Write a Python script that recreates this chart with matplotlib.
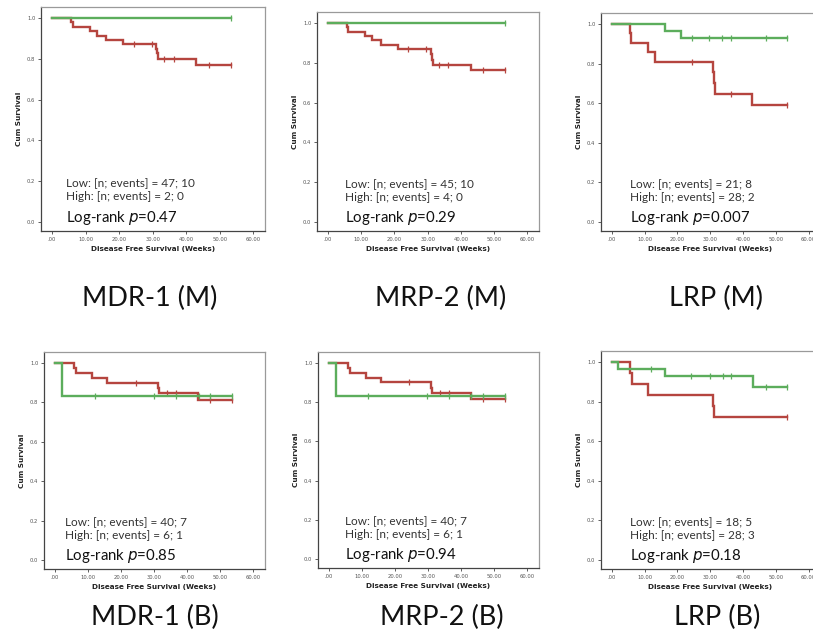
import matplotlib
matplotlib.use("Agg")
import matplotlib.pyplot as plt
import numpy as np

W, H = 813, 633
DPI = 100

# ---------------- data ----------------
# MDR-1 (M)
mdr_m_low_t = [0, 5.7, 6.2, 11.3, 13.5, 16.2, 21.2, 31.0, 31.3, 31.6, 43.0, 53.3]
mdr_m_low_s = [1.0, 0.979, 0.957, 0.936, 0.915, 0.894, 0.872, 0.850, 0.828, 0.800, 0.770, 0.770]
mdr_m_low_c = [24.4, 29.8, 33.5, 36.4, 46.8, 53.3]
mdr_m_high_t = [0, 53.3]
mdr_m_high_s = [1.0, 1.0]
mdr_m_high_c = [53.3]

# MRP-2 (M)
mrp_m_low_t = [0, 5.7, 6.0, 11.2, 13.2, 16.0, 21.2, 31.0, 31.3, 31.6, 42.9, 53.2]
mrp_m_low_s = [1.0, 0.978, 0.957, 0.936, 0.914, 0.891, 0.867, 0.842, 0.815, 0.790, 0.762, 0.762]
mrp_m_low_c = [24.1, 29.6, 33.3, 36.2, 46.5, 53.2]
mrp_m_high_t = [0, 53.2]
mrp_m_high_s = [1.0, 1.0]
mrp_m_high_c = [53.2]

# LRP (M)
lrp_m_low_t = [0, 5.6, 5.9, 11.0, 13.3, 31.0, 31.2, 31.5, 42.8, 53.3]
lrp_m_low_s = [1.0, 0.952, 0.905, 0.857, 0.810, 0.756, 0.702, 0.648, 0.589, 0.589]
lrp_m_low_c = [24.4, 36.3, 53.3]
lrp_m_high_t = [0, 16.3, 21.0, 53.3]
lrp_m_high_s = [1.0, 0.964, 0.929, 0.929]
lrp_m_high_c = [24.4, 29.6, 33.7, 36.3, 46.9, 53.3]

# MDR-1 (B)
mdr_b_low_t = [0, 5.9, 6.4, 11.2, 15.8, 31.1, 31.4, 43.2, 53.4]
mdr_b_low_s = [1.0, 0.975, 0.950, 0.925, 0.900, 0.874, 0.848, 0.814, 0.814]
mdr_b_low_c = [24.5, 33.9, 36.7, 47.0, 53.4]
mdr_b_high_t = [0, 2.2, 53.4]
mdr_b_high_s = [1.0, 0.833, 0.833]
mdr_b_high_c = [12.0, 29.8, 36.7, 43.4, 47.0, 53.4]

# MRP-2 (B)
mrp_b_low_t = [0, 5.8, 6.3, 11.2, 15.8, 31.0, 31.3, 42.8, 53.2]
mrp_b_low_s = [1.0, 0.975, 0.950, 0.925, 0.900, 0.874, 0.848, 0.814, 0.814]
mrp_b_low_c = [24.3, 33.7, 36.4, 46.6, 53.2]
mrp_b_high_t = [0, 2.2, 53.2]
mrp_b_high_s = [1.0, 0.833, 0.833]
mrp_b_high_c = [11.9, 29.6, 36.4, 43.0, 46.6, 53.2]

# LRP (B)
lrp_b_low_t = [0, 5.6, 6.1, 10.9, 31.0, 31.3, 53.4]
lrp_b_low_s = [1.0, 0.944, 0.889, 0.833, 0.778, 0.722, 0.722]
lrp_b_low_c = [53.4]
lrp_b_high_t = [0, 2.0, 16.3, 43.1, 53.4]
lrp_b_high_s = [1.0, 0.964, 0.929, 0.871, 0.871]
lrp_b_high_c = [11.9, 24.3, 29.8, 33.9, 36.5, 46.9, 53.4]

titles = ["MDR-1 (M)", "MRP-2 (M)", "LRP (M)", "MDR-1 (B)", "MRP-2 (B)", "LRP (B)"]
low_n = [47, 45, 21, 40, 40, 18]
low_ev = [10, 10, 8, 7, 7, 5]
high_n = [2, 4, 28, 6, 6, 28]
high_ev = [0, 0, 2, 1, 1, 3]
pvals = ["0.47", "0.29", "0.007", "0.85", "0.94", "0.18"]

x_ticks = [0, 10, 20, 30, 40, 50, 60]
x_tick_labels = [".00", "10.00", "20.00", "30.00", "40.00", "50.00", "60.00"]
y_ticks = [0.0, 0.2, 0.4, 0.6, 0.8, 1.0]
y_tick_labels = ["0.0", "0.2", "0.4", "0.6", "0.8", "1.0"]

panels = [
    (mdr_m_low_t, mdr_m_low_s, mdr_m_low_c, mdr_m_high_t, mdr_m_high_s, mdr_m_high_c),
    (mrp_m_low_t, mrp_m_low_s, mrp_m_low_c, mrp_m_high_t, mrp_m_high_s, mrp_m_high_c),
    (lrp_m_low_t, lrp_m_low_s, lrp_m_low_c, lrp_m_high_t, lrp_m_high_s, lrp_m_high_c),
    (mdr_b_low_t, mdr_b_low_s, mdr_b_low_c, mdr_b_high_t, mdr_b_high_s, mdr_b_high_c),
    (mrp_b_low_t, mrp_b_low_s, mrp_b_low_c, mrp_b_high_t, mrp_b_high_s, mrp_b_high_c),
    (lrp_b_low_t, lrp_b_low_s, lrp_b_low_c, lrp_b_high_t, lrp_b_high_s, lrp_b_high_c),
]

# ---------------- layout (pixels: left, top, right, bottom) ----------------
boxes = [
    (41, 7, 265, 231),
    (317, 12, 539, 231),
    (601, 13, 820, 231),
    (44, 352, 265, 569),
    (318, 352, 539, 568),
    (601, 351, 820, 569),
]
text_x = [4.2, 5.1, 5.5, 3.1, 4.8, 5.5]
title_pos = [(150, 298), (441, 298), (716, 298), (155, 617), (442, 617), (717, 617)]

RED = "#b5453f"
GREEN = "#5cad5c"
FONT = "Lato"

fig = plt.figure(figsize=(W / DPI, H / DPI), dpi=DPI)
fig.patch.set_facecolor("white")


def step_curve(ax, t, s, c, color):
    ax.step(t, s, where="post", color=color, lw=1.7, solid_joinstyle="miter")
    cs = [s[np.searchsorted(t, ci, side="right") - 1] for ci in c]
    ax.plot(c, cs, ls="none", marker="|", ms=4, mew=0.9, color=color)


for i, (box, data) in enumerate(zip(boxes, panels)):
    l, t_, r, b = box
    ax = fig.add_axes([l / W, 1 - b / H, (r - l) / W, (b - t_) / H])
    lt, ls_, lc, ht, hs, hc = data
    step_curve(ax, lt, ls_, lc, RED)
    step_curve(ax, ht, hs, hc, GREEN)
    ax.set_xlim(-3.3, 63.5)
    ax.set_ylim(-0.045, 1.055)
    ax.set_xticks(x_ticks)
    ax.set_xticklabels(x_tick_labels)
    ax.set_yticks(y_ticks)
    ax.set_yticklabels(y_tick_labels)
    ax.tick_params(axis="both", length=2.5, width=0.6, pad=1.5, labelsize=3.8,
                   labelcolor="#555555", color="#444444")
    for side in ["left", "bottom"]:
        ax.spines[side].set_color("#444444")
        ax.spines[side].set_linewidth(0.9)
    for side in ["top", "right"]:
        ax.spines[side].set_color("#9a9a9a")
        ax.spines[side].set_linewidth(0.9)
    ax.set_xlabel("Disease Free Survival (Weeks)", fontsize=5.2, fontweight="bold",
                  labelpad=3, color="#222222")
    ax.set_ylabel("Cum Survival", fontsize=5.2, fontweight="bold", labelpad=4,
                  color="#222222")
    tx = text_x[i]
    ax.text(tx, 0.19, f"Low: [n; events] = {low_n[i]}; {low_ev[i]}", fontsize=8.5,
            family=FONT, va="center", ha="left", color="#333333")
    ax.text(tx, 0.125, f"High: [n; events] = {high_n[i]}; {high_ev[i]}", fontsize=8.5,
            family=FONT, va="center", ha="left", color="#333333")
    ax.text(tx, 0.02, "Log-rank $\\it{p}$=" + pvals[i], fontsize=10.8,
            family=FONT, va="center", ha="left", color="#111111")

for title, (x, y) in zip(titles, title_pos):
    fig.text(x / W, 1 - y / H, title, fontsize=19.5, family=FONT, ha="center",
             va="center", color="#111111")

fig.savefig("out.png", dpi=DPI, facecolor="white")
